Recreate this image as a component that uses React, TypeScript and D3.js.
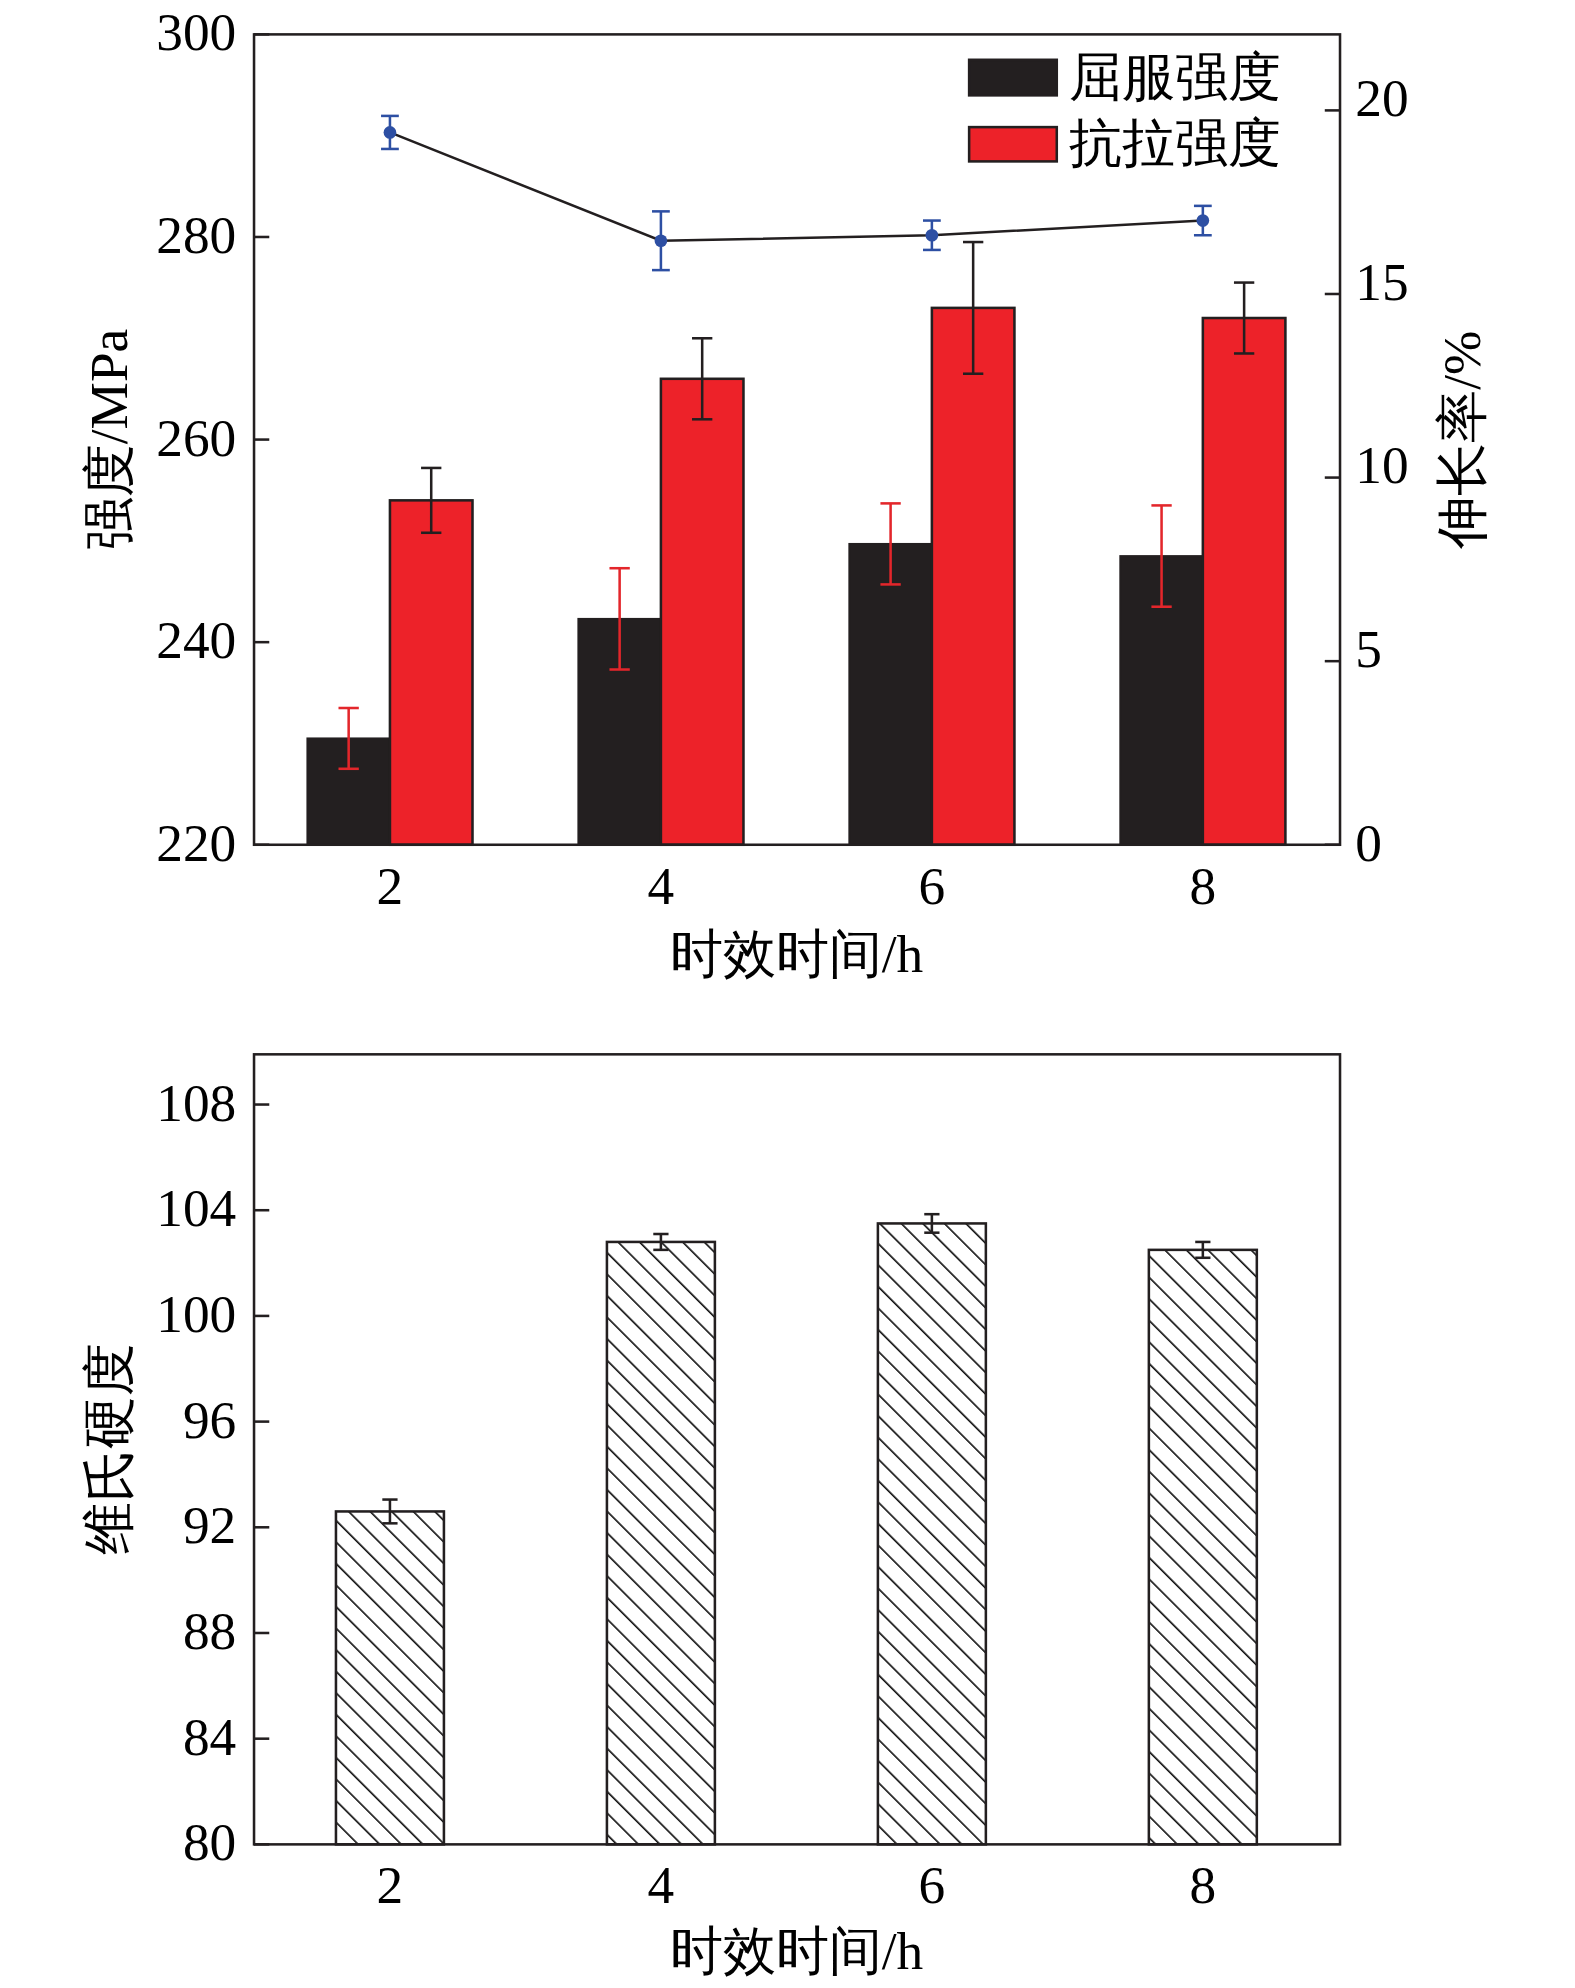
import React from "react";
import * as d3 from "d3";

const cats = ["2", "4", "6", "8"];
const yieldV = [230.5, 242.3, 249.7, 248.5];
const yieldE = [3.0, 5.0, 4.0, 5.0];
const tensV = [254, 266, 273, 272];
const tensE = [3.2, 4.0, 6.5, 3.5];
const elong = [19.4, 16.45, 16.6, 17.0];
const elongE = [0.45, 0.8, 0.4, 0.4];
const hv = [92.6, 102.8, 103.5, 102.5];
const hvE = [0.45, 0.3, 0.35, 0.3];
const leftTicks = [220, 240, 260, 280, 300];
const rightTicks = [0, 5, 10, 15, 20];
const hvTicks = [80, 84, 88, 92, 96, 100, 104, 108];

const F = "'Liberation Serif','Times New Roman',serif";
const L = 200, R = 1055;

export default function App() {
  const x = d3.scalePoint<string>().domain(cats).range([307, 947]);
  const y1 = d3.scaleLinear().domain([220, 300]).range([665, 27]);
  const y2 = d3.scaleLinear().domain([0, 22.07]).range([665, 27]);
  const y3 = d3.scaleLinear().domain([80, 109.9]).range([1452, 830]);
  const line = d3.line<number>().x((_, i) => x(cats[i])!).y((d) => y2(d));
  const bw = 65;
  const hw = 85;
  const eb = (cx: number, ys: (v: number) => number, v: number, e: number, col: string, cap = 8, k = "") => (
    <g key={k} stroke={col} strokeWidth={2}>
      <line x1={cx} x2={cx} y1={ys(v + e)} y2={ys(v - e)} />
      <line x1={cx - cap} x2={cx + cap} y1={ys(v + e)} y2={ys(v + e)} />
      <line x1={cx - cap} x2={cx + cap} y1={ys(v - e)} y2={ys(v - e)} />
    </g>
  );
  return (
    <svg width={1575} height={1988} viewBox="0 0 1240 1565" style={{ position: "absolute", left: 0, top: 0, background: "#fff" }} fontFamily={F}>
      <defs>
        <pattern id="hatch" patternUnits="userSpaceOnUse" width={12} height={12} patternTransform="rotate(-45)">
          <line x1={0} y1={0} x2={0} y2={12} stroke="#111" strokeWidth={2.6} />
        </pattern>
      </defs>
      {cats.map((c, i) => (
        <g key={c}>
          <rect x={x(c)! - bw} y={y1(yieldV[i])} width={bw} height={665 - y1(yieldV[i])} fill="#231f20" stroke="#231f20" strokeWidth={1.5} />
          <rect x={x(c)!} y={y1(tensV[i])} width={bw} height={665 - y1(tensV[i])} fill="#ed2229" stroke="#231f20" strokeWidth={2} />
          {eb(x(c)! - bw / 2, y1, yieldV[i], yieldE[i], "#e3262b", 8, "y" + i)}
          {eb(x(c)! + bw / 2, y1, tensV[i], tensE[i], "#231f20", 8, "t" + i)}
        </g>
      ))}
      <path d={line(elong)!} fill="none" stroke="#231f20" strokeWidth={2} />
      {cats.map((c, i) => (
        <g key={"e" + c}>
          {eb(x(c)!, y2, elong[i], elongE[i], "#2d4fa3", 7, "ee" + i)}
          <circle cx={x(c)} cy={y2(elong[i])} r={5} fill="#2d4fa3" />
        </g>
      ))}
      <rect x={L} y={27} width={R - L} height={638} fill="none" stroke="#231f20" strokeWidth={2} />
      {leftTicks.map((t) => (
        <g key={"l" + t}>
          <line x1={L} x2={L + 12} y1={y1(t)} y2={y1(t)} stroke="#231f20" strokeWidth={2} />
          <text x={L - 14} y={y1(t)} dy="0.3em" textAnchor="end" fontSize={42}>{t}</text>
        </g>
      ))}
      {rightTicks.map((t) => (
        <g key={"r" + t}>
          <line x1={R} x2={R - 12} y1={y2(t)} y2={y2(t)} stroke="#231f20" strokeWidth={2} />
          <text x={R + 12} y={y2(t) - (t === 0 ? 0 : 8)} dy="0.3em" textAnchor="start" fontSize={42}>{t}</text>
        </g>
      ))}
      {cats.map((c) => (
        <text key={"xb" + c} x={x(c)} y={712} textAnchor="middle" fontSize={42}>{c}</text>
      ))}
      <text x={627} y={765} textAnchor="middle" fontSize={42}>时效时间/h</text>
      <text transform="translate(100,346) rotate(-90)" textAnchor="middle" fontSize={42}>强度/MPa</text>
      <text transform="translate(1165,346) rotate(-90)" textAnchor="middle" fontSize={42}>伸长率/%</text>
      <rect x={763} y={47} width={69} height={28} fill="#231f20" stroke="#231f20" strokeWidth={2} />
      <text x={842} y={75} fontSize={42}>屈服强度</text>
      <rect x={763} y={100} width={69} height={27} fill="#ed2229" stroke="#231f20" strokeWidth={2} />
      <text x={842} y={127} fontSize={42}>抗拉强度</text>

      {cats.map((c, i) => (
        <g key={"h" + c}>
          <rect x={x(c)! - hw / 2} y={y3(hv[i])} width={hw} height={1452 - y3(hv[i])} fill="url(#hatch)" stroke="#231f20" strokeWidth={2} />
          {eb(x(c)!, y3, hv[i], hvE[i], "#231f20", 6, "he" + i)}
        </g>
      ))}
      <rect x={L} y={830} width={R - L} height={622} fill="none" stroke="#231f20" strokeWidth={2} />
      {hvTicks.map((t) => (
        <g key={"hv" + t}>
          <line x1={L} x2={L + 12} y1={y3(t)} y2={y3(t)} stroke="#231f20" strokeWidth={2} />
          <text x={L - 14} y={y3(t)} dy="0.3em" textAnchor="end" fontSize={42}>{t}</text>
        </g>
      ))}
      {cats.map((c) => (
        <text key={"xb2" + c} x={x(c)} y={1498} textAnchor="middle" fontSize={42}>{c}</text>
      ))}
      <text x={627} y={1550} textAnchor="middle" fontSize={42}>时效时间/h</text>
      <text transform="translate(100,1141) rotate(-90)" textAnchor="middle" fontSize={42}>维氏硬度</text>
    </svg>
  );
}
